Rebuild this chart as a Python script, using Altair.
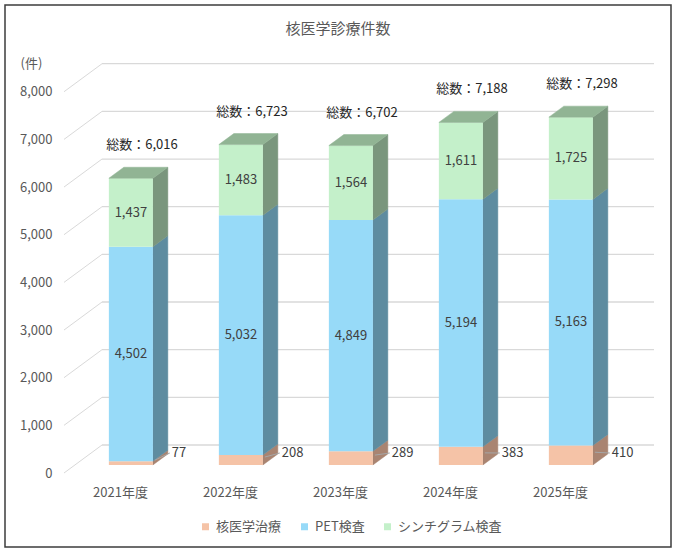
import altair as alt
import pandas as pd

# ---- data -------------------------------------------------------------
years = ["2021年度", "2022年度", "2023年度", "2024年度", "2025年度"]
treatment = [77, 208, 289, 383, 410]        # 核医学治療
pet = [4502, 5032, 4849, 5194, 5163]        # PET検査
scinti = [1437, 1483, 1564, 1611, 1725]     # シンチグラム検査
series = ["核医学治療", "PET検査", "シンチグラム検査"]
y_ticks = [0, 1000, 2000, 3000, 4000, 5000, 6000, 7000, 8000]

front_colors = ["#F5C3A7", "#97DAF8", "#C4F0CA"]
side_colors = ["#A98471", "#5E8CA0", "#7A967D"]
top_colors = ["#B89382", "#6E9EB4", "#91B494"]

FONT = "Noto Sans CJK JP"
TEXT = "#404040"
AXIS_TEXT = "#595959"

# ---- pseudo-3D projection helpers --------------------------------------
PX_PER_CAT = 110.0          # pixels between category slots
PX_PER_UNIT = 0.04766       # pixels per count
WALL_DX, WALL_DY = 38.0, 28.0   # full depth of floor / back wall (px)
BAR_FRONT, BAR_BACK = 0.286, 0.68  # depth of bar front / back face (fraction)
BAR_HALF = 22.0             # half bar width (px)


def sx(px):
    return px / PX_PER_CAT


def sy(px):
    return px / PX_PER_UNIT


fdx, fdy = WALL_DX * BAR_FRONT, WALL_DY * BAR_FRONT
bdx, bdy = WALL_DX * BAR_BACK, WALL_DY * BAR_BACK

# canvas geometry of the plot frame (x of slot 0 centre, y of zero line)
X0, Y0 = 120.0, 473.0
LEFT, RIGHT, TOP, BOTTOM = 5.0, 671.0, 5.0, 547.0
x_dom = [sx(LEFT - X0), sx(RIGHT - X0)]
y_dom = [sy(Y0 - BOTTOM), sy(Y0 - TOP)]
XS = alt.Scale(domain=x_dom, nice=False, zero=False)
YS = alt.Scale(domain=y_dom, nice=False, zero=False)

year_expr = "[" + ",".join(f"'{y}'" for y in years) + "][datum.value]"

X_AXIS = alt.Axis(
    values=list(range(len(years))), labelExpr=year_expr, domain=False,
    ticks=False, grid=False, labelPadding=0, offset=-61, labelBaseline="top",
    labelFontSize=13, labelColor=AXIS_TEXT, labelFont=FONT, title=None)
Y_AXIS = alt.Axis(
    values=y_ticks, format=",.0f", domain=False, ticks=False, grid=False,
    labelPadding=2, offset=-49, labelFontSize=13, labelColor=AXIS_TEXT,
    labelFont=FONT, title="(件)", titleAngle=0, titleX=-23, titleY=58,
    titleAlign="center", titleBaseline="middle", titleFontSize=13,
    titleFontWeight="normal", titleColor=AXIS_TEXT, titleFont=FONT)


def X(field):
    return alt.X(field, scale=XS, axis=X_AXIS)


def Y(field):
    return alt.Y(field, scale=YS, axis=Y_AXIS)


# ---- build geometry tables ---------------------------------------------
front_rows, side_rows, top_rows, label_rows = [], [], [], []
pink_rows, total_rows = [], []
for i, yr in enumerate(years):
    vals = [treatment[i], pet[i], scinti[i]]
    total = sum(vals)
    lo = 0
    xl_f = i + sx(fdx - BAR_HALF)
    xr_f = i + sx(fdx + BAR_HALF)
    xl_b = i + sx(bdx - BAR_HALF)
    xr_b = i + sx(bdx + BAR_HALF)
    for s, v in enumerate(vals):
        hi = lo + v
        front_rows.append(dict(series=series[s], x1=xl_f, x2=xr_f,
                               y1=lo + sy(fdy), y2=hi + sy(fdy)))
        key = f"{i}-{s}"
        side_rows.append(dict(key=key, shade=side_colors[s], x=xr_f,
                              ylo=lo + sy(fdy), yhi=hi + sy(fdy)))
        side_rows.append(dict(key=key, shade=side_colors[s], x=xr_b,
                              ylo=lo + sy(bdy), yhi=hi + sy(bdy)))
        if s > 0:
            label_rows.append(dict(x=i + sx(fdx), y=(lo + hi) / 2 + sy(fdy),
                                   text=f"{v:,}"))
        lo = hi
    # top face of the stack
    tf, tb = total + sy(fdy), total + sy(bdy)
    for x, a, b in [(xl_f, tf, tf), (xl_b, tf, tb), (xr_f, tf, tb), (xr_b, tb, tb)]:
        top_rows.append(dict(key=f"top{i}", shade=top_colors[2], x=x, ylo=a, yhi=b))
    # small treatment counts sit beside the bar with a leader line
    pink_rows.append(dict(x=xr_b + sx(4), y=0, text=f"{treatment[i]:,}",
                          lx1=xr_f + sx(2), ly1=treatment[i] / 2 + sy(fdy + 3),
                          lx2=xr_b + sx(2), ly2=sy(20)))
    total_rows.append(dict(x=i + sx(22), y=total, text=f"総数：{total:,}"))

front_df = pd.DataFrame(front_rows)
side_df = pd.DataFrame(side_rows)
top_df = pd.DataFrame(top_rows)
label_df = pd.DataFrame(label_rows)
pink_df = pd.DataFrame(pink_rows)
total_df = pd.DataFrame(total_rows)

xa = sx(64 - X0)
grid_df = pd.DataFrame({
    "v": y_ticks,
    "xa": [xa] * len(y_ticks),
    "xb": [xa + sx(WALL_DX)] * len(y_ticks),
    "xe": [sx(654 - X0)] * len(y_ticks),
    "vb": [t + sy(WALL_DY) for t in y_ticks],
})

# ---- layers ------------------------------------------------------------
grid_diag = alt.Chart(grid_df).mark_rule(color="#d9d9d9", strokeWidth=1).encode(
    x=X("xa:Q"), x2="xb:Q", y=Y("v:Q"), y2="vb:Q",
)
grid_back = alt.Chart(grid_df).mark_rule(color="#d9d9d9", strokeWidth=1.3).encode(
    x=X("xb:Q"), x2="xe:Q", y=Y("vb:Q"),
)
sides = alt.Chart(side_df).mark_area(strokeWidth=0.5).encode(
    x=X("x:Q"), y=Y("ylo:Q"), y2="yhi:Q",
    detail="key:N",
    fill=alt.Fill("shade:N", scale=None),
    stroke=alt.Stroke("shade:N", scale=None),
)
tops = alt.Chart(top_df).mark_area(strokeWidth=0.5).encode(
    x=X("x:Q"), y=Y("ylo:Q"), y2="yhi:Q",
    detail="key:N",
    fill=alt.Fill("shade:N", scale=None),
    stroke=alt.Stroke("shade:N", scale=None),
)
fronts = alt.Chart(front_df).mark_rect().encode(
    x=X("x1:Q"), x2="x2:Q", y=Y("y1:Q"), y2="y2:Q",
    color=alt.Color("series:N", scale=alt.Scale(domain=series, range=front_colors),
                    legend=alt.Legend(title=None, orient="none", direction="horizontal",
                                      legendX=194, legendY=515, symbolType="square",
                                      symbolSize=49, symbolStrokeWidth=0,
                                      labelFontSize=13, labelColor=AXIS_TEXT,
                                      labelFont=FONT, labelOffset=4,
                                      columnPadding=16, padding=0)),
)
seg_labels = alt.Chart(label_df).mark_text(
    font=FONT, fontSize=13, color=TEXT, baseline="middle").encode(
    x=X("x:Q"), y=Y("y:Q"), text="text:N",
)
pink_leaders = alt.Chart(pink_df).mark_rule(color="#a6a6a6", strokeWidth=1).encode(
    x=X("lx1:Q"), x2="lx2:Q", y=Y("ly1:Q"), y2="ly2:Q",
)
pink_labels = alt.Chart(pink_df).mark_text(
    font=FONT, fontSize=13, color=TEXT, align="left", baseline="middle", dy=-20).encode(
    x=X("x:Q"), y=Y("y:Q"), text="text:N",
)
total_labels = alt.Chart(total_df).mark_text(
    font=FONT, fontSize=13, color="#262626", baseline="middle", dy=-41).encode(
    x=X("x:Q"), y=Y("y:Q"), text="text:N",
)

chart = alt.layer(
    grid_diag, grid_back, sides, fronts, tops,
    seg_labels, pink_leaders, pink_labels, total_labels,
).properties(
    width=RIGHT - LEFT,
    height=BOTTOM - TOP,
    padding={"left": 5, "top": 5, "right": 5, "bottom": 6},
    autosize=alt.AutoSizeParams(type="none"),
    background="white",
    title=alt.TitleParams("核医学診療件数", font=FONT, fontSize=15, fontWeight="normal",
                          color=AXIS_TEXT, anchor="middle", baseline="middle",
                          offset=0, dy=39),
).configure_view(stroke="#3c3c3c", strokeWidth=1.5)

chart.save("out.html", embed_options={"renderer": "svg", "actions": False})
